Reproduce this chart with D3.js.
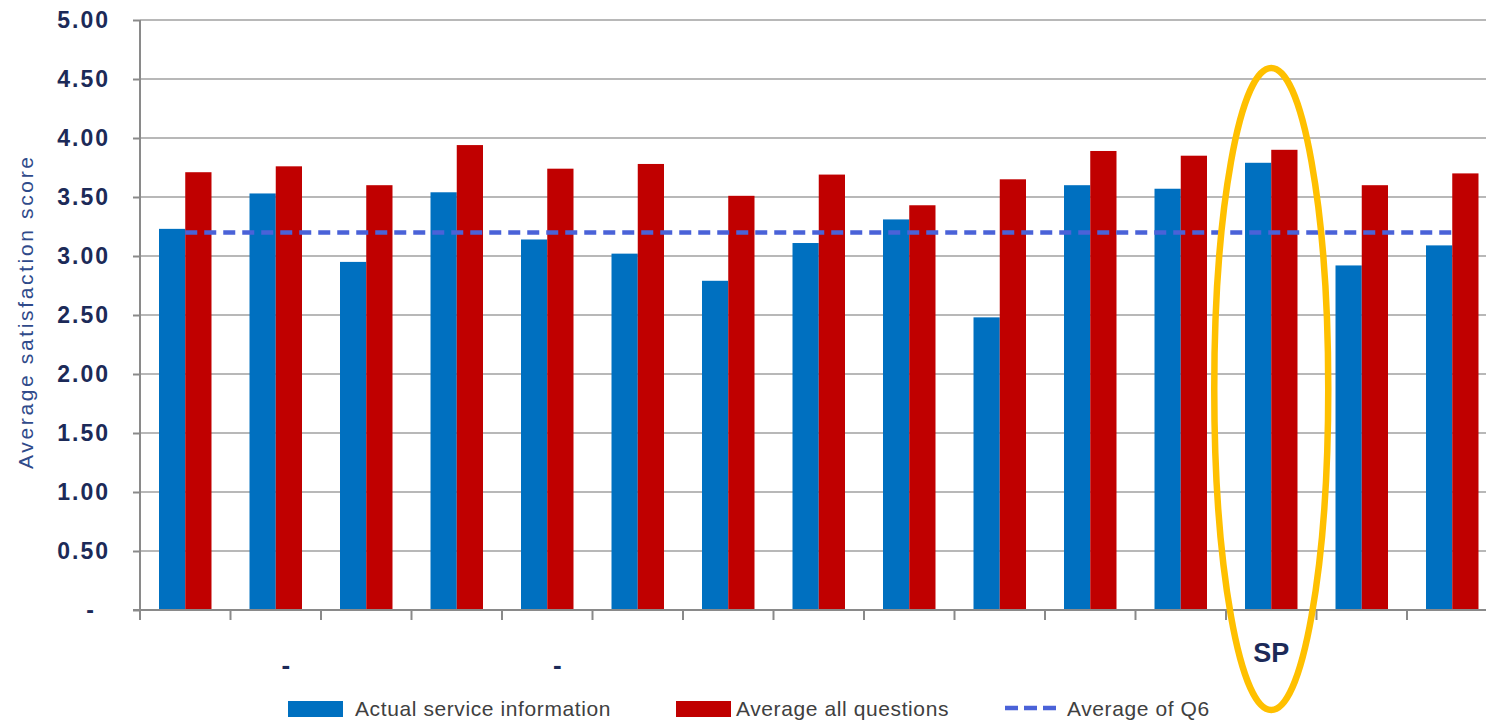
<!DOCTYPE html>
<html>
<head>
<meta charset="utf-8">
<script src="https://cdn.jsdelivr.net/npm/d3@7"></script>
<style>
  html, body { margin: 0; padding: 0; background: #fff; overflow: hidden; }
  svg { display: block; font-family: "Liberation Sans", Arial, sans-serif; }
</style>
</head>
<body>
<svg id="chart" width="1486" height="722"></svg>
<script>
// Satisfaction scores per service group
const categories = ["G1","G2","G3","G4","G5","G6","G7","G8","G9","G10","G11","G12","SP","G14","G15"];
const categoryLabels = ["", "", "", "", "", "", "", "", "", "", "", "", "SP", "", ""];
const labelFragments = [{ index: 1, text: "-" }, { index: 4, text: "-" }];
const actualService = [3.23, 3.53, 2.95, 3.54, 3.14, 3.02, 2.79, 3.11, 3.31, 2.48, 3.60, 3.57, 3.79, 2.92, 3.09];
const averageAll    = [3.71, 3.76, 3.60, 3.94, 3.74, 3.78, 3.51, 3.69, 3.43, 3.65, 3.89, 3.85, 3.90, 3.60, 3.70];
const averageQ6 = 3.20;
const yTicks = [0, 0.5, 1, 1.5, 2, 2.5, 3, 3.5, 4, 4.5, 5];
const seriesNames = ["Actual service information", "Average all questions", "Average of Q6"];
const highlighted = "SP";

const W = 1486, H = 722;
const plot = { left: 140, top: 20, bottom: 610, right: 1497.5 };
const colors = { blue: "#0070c0", red: "#c00000", dash: "#4a62d8", grid: "#b8b8b8", axis: "#8a8a8a", tick: "#1c2a58", ring: "#ffc000" };

const svg = d3.select("#chart");

const x0 = d3.scaleBand().domain(categories).range([plot.left, plot.right]).paddingInner(0).paddingOuter(0);
const bw = x0.bandwidth();
const x1 = d3.scaleBand().domain(["actual", "all"]).range([bw * 0.21, bw * 0.79]).padding(0);
const y = d3.scaleLinear().domain([0, 5]).range([plot.bottom, plot.top]);

// Horizontal gridlines
svg.append("g").selectAll("line").data(yTicks.filter(d => d > 0)).join("line")
  .attr("x1", plot.left).attr("x2", W)
  .attr("y1", d => y(d)).attr("y2", d => y(d))
  .attr("stroke", colors.grid).attr("stroke-width", 2);

// Y axis
const yAxis = svg.append("g").attr("transform", `translate(${plot.left},0)`)
  .call(d3.axisLeft(y).tickValues(yTicks).tickSize(7).tickPadding(23)
    .tickFormat(d => d === 0 ? "-" : d3.format(".2f")(d)));
yAxis.select(".domain").remove();
yAxis.selectAll(".tick line").attr("stroke", colors.axis).attr("stroke-width", 2);
yAxis.selectAll(".tick text")
  .attr("fill", colors.tick).attr("font-size", 23).attr("font-weight", "bold")
  .attr("letter-spacing", 2).attr("font-family", "'Liberation Sans', Arial, sans-serif")
  .attr("dx", d => d === 0 ? -14 : 0);
svg.append("line").attr("x1", plot.left).attr("x2", plot.left)
  .attr("y1", plot.top).attr("y2", plot.bottom + 10)
  .attr("stroke", colors.axis).attr("stroke-width", 2);

// Bars
const groups = svg.append("g").selectAll("g").data(categories).join("g")
  .attr("transform", d => `translate(${x0(d)},0)`);
groups.append("rect")
  .attr("x", x1("actual")).attr("width", x1.bandwidth())
  .attr("y", (d, i) => y(actualService[i]))
  .attr("height", (d, i) => y(0) - y(actualService[i]))
  .attr("fill", colors.blue);
groups.append("rect")
  .attr("x", x1("all")).attr("width", x1.bandwidth())
  .attr("y", (d, i) => y(averageAll[i]))
  .attr("height", (d, i) => y(0) - y(averageAll[i]))
  .attr("fill", colors.red);

// X axis baseline and category boundary ticks
svg.append("line").attr("x1", plot.left - 7).attr("x2", W)
  .attr("y1", y(0)).attr("y2", y(0))
  .attr("stroke", colors.axis).attr("stroke-width", 2);
const boundaries = categories.map(c => x0(c)).concat([plot.right]);
svg.append("g").selectAll("line").data(boundaries).join("line")
  .attr("x1", d => d).attr("x2", d => d)
  .attr("y1", y(0)).attr("y2", y(0) + 10)
  .attr("stroke", colors.axis).attr("stroke-width", 2);

// Average of Q6 reference line
svg.append("line")
  .attr("x1", x0(categories[0]) + bw / 2)
  .attr("x2", x0(categories[categories.length - 1]) + bw / 2)
  .attr("y1", y(averageQ6)).attr("y2", y(averageQ6))
  .attr("stroke", colors.dash).attr("stroke-width", 4.5)
  .attr("stroke-dasharray", "12,7");

// Category labels
svg.append("g").selectAll("text").data(categories).join("text")
  .attr("x", d => x0(d) + bw / 2).attr("y", 662)
  .attr("text-anchor", "middle").attr("font-size", 27).attr("font-weight", "bold")
  .attr("fill", colors.tick)
  .text((d, i) => categoryLabels[i]);
svg.append("g").selectAll("text").data(labelFragments).join("text")
  .attr("x", d => x0(categories[d.index]) + bw / 2 + 10).attr("y", 674)
  .attr("text-anchor", "middle").attr("font-size", 26).attr("font-weight", "bold")
  .attr("fill", colors.tick)
  .text(d => d.text);

// Highlight ring around SP
svg.append("ellipse")
  .attr("cx", x0(highlighted) + bw / 2).attr("cy", 389)
  .attr("rx", 57).attr("ry", 321)
  .attr("fill", "none").attr("stroke", colors.ring).attr("stroke-width", 6.5);

// Y axis title
svg.append("text")
  .attr("transform", "translate(33,313) rotate(-90)")
  .attr("text-anchor", "middle").attr("font-size", 21)
  .attr("fill", "#2f4a8a")
  .attr("textLength", 312).attr("lengthAdjust", "spacing")
  .text("Average satisfaction score");

// Legend
const legend = svg.append("g");
const legendItems = [
  { name: seriesNames[0], kind: "rect", color: colors.blue, x: 288, tx: 355 },
  { name: seriesNames[1], kind: "rect", color: colors.red, x: 676, tx: 736 },
  { name: seriesNames[2], kind: "dash", color: colors.dash, x: 1005, tx: 1067 }
];
legendItems.forEach(it => {
  if (it.kind === "rect") {
    legend.append("rect").attr("x", it.x).attr("y", 701).attr("width", 55).attr("height", 16)
      .attr("fill", it.color);
  } else {
    legend.append("line").attr("x1", it.x).attr("x2", it.x + 57)
      .attr("y1", 708).attr("y2", 708)
      .attr("stroke", it.color).attr("stroke-width", 4.5).attr("stroke-dasharray", "13,6");
  }
  legend.append("text").attr("x", it.tx).attr("y", 716)
    .attr("font-size", 21).attr("fill", "#404040").attr("letter-spacing", 0.6)
    .text(it.name);
});
</script>
</body>
</html>
